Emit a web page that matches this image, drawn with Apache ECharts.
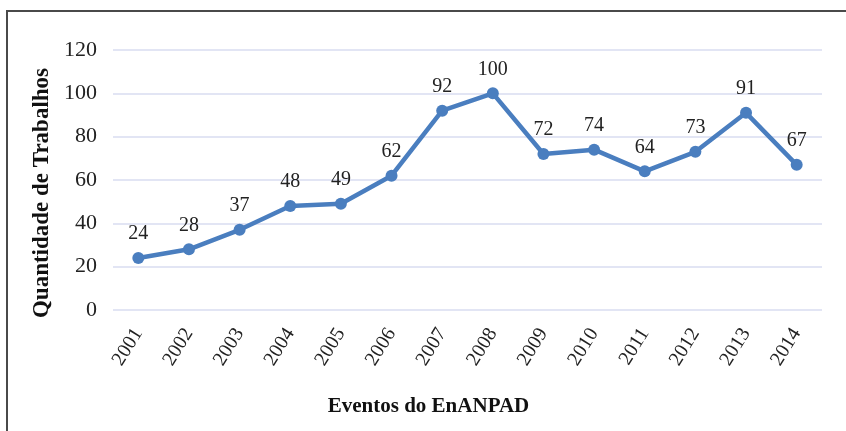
<!DOCTYPE html>
<html>
<head>
<meta charset="utf-8">
<script src="https://cdn.jsdelivr.net/npm/echarts@6/dist/echarts.min.js"></script>
<style>
  html, body { margin: 0; padding: 0; background: #fff; }
  #chart-panel { width: 846px; height: 431px; }
</style>
</head>
<body>
<div id="chart-panel"></div>
<script>
const years = ['2001', '2002', '2003', '2004', '2005', '2006', '2007',
               '2008', '2009', '2010', '2011', '2012', '2013', '2014']
const trabalhos = [24, 28, 37, 48, 49, 62, 92, 100, 72, 74, 64, 73, 91, 67]
const yTicks = { min: 0, max: 120, interval: 20 }

const serif = '"Liberation Serif", "DejaVu Serif", serif'

let myChart = echarts.init(document.getElementById('chart-panel'))
myChart.setOption({
    animation: false,
    backgroundColor: '#fff',
    graphic: [{
        type: 'rect',
        shape: { x: 7, y: 11, width: 860, height: 440 },
        style: { fill: 'none', stroke: '#4a4a4a', lineWidth: 2 }
    }],
    grid: { left: 113, right: 24, top: 50, bottom: 121 },
    xAxis: {
        type: 'category',
        data: years,
        boundaryGap: true,
        axisLine: { show: false },
        axisTick: { show: false },
        axisLabel: {
            rotate: 58,
            margin: 20,
            color: '#222',
            fontFamily: serif,
            fontSize: 20
        },
        name: 'Eventos do EnANPAD',
        nameLocation: 'middle',
        nameGap: 86,
        nameTextStyle: {
            color: '#111',
            fontFamily: serif,
            fontWeight: 'bold',
            fontSize: 21,
            padding: [0, 78, 0, 0]
        }
    },
    yAxis: {
        type: 'value',
        min: yTicks.min,
        max: yTicks.max,
        interval: yTicks.interval,
        axisLine: { show: false },
        axisTick: { show: false },
        splitLine: { lineStyle: { color: '#d9dcf0', width: 1.5 } },
        axisLabel: {
            margin: 16,
            color: '#222',
            fontFamily: serif,
            fontSize: 22
        },
        name: 'Quantidade de Trabalhos',
        nameLocation: 'middle',
        nameGap: 48,
        nameTextStyle: {
            color: '#111',
            fontFamily: serif,
            fontWeight: 'bold',
            fontSize: 23,
            padding: [0, 26, 0, 0]
        }
    },
    series: [{
        type: 'line',
        data: trabalhos,
        symbol: 'circle',
        symbolSize: 12,
        lineStyle: { color: '#4a7ebf', width: 4.5 },
        itemStyle: { color: '#4a7ebf' },
        label: {
            show: true,
            position: 'top',
            distance: 8,
            color: '#222',
            fontFamily: serif,
            fontSize: 20
        }
    }]
})
</script>
</body>
</html>
